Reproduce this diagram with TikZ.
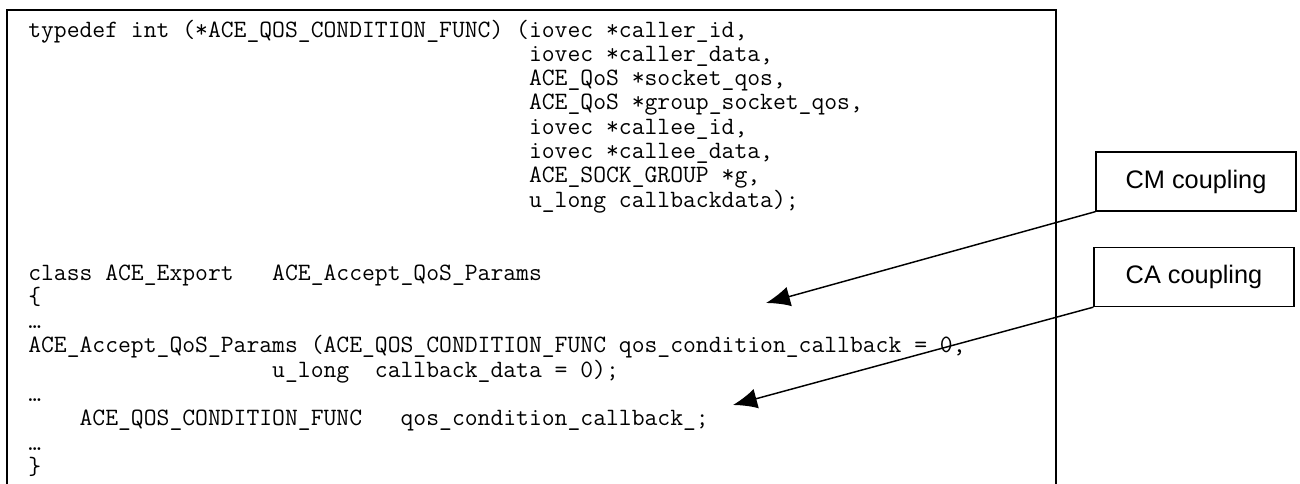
\documentclass[tikz,border=0pt]{standalone}
\usepackage{fontspec}
\newfontfamily\labelfont{Liberation Sans}
\usetikzlibrary{arrows.meta}
\newcommand{\ttgap}[1]{\hspace*{#1\fontcharwd\font`x}}

\begin{document}
\begin{tikzpicture}[x=0.75pt, y=-0.75pt,
  code line/.style={anchor=base west, inner sep=0pt, font=\ttfamily\fontsize{18.7}{18}\selectfont},
  note/.style={draw, line width=1pt, minimum width=150pt, minimum height=44.25pt, inner sep=0pt, font=\labelfont\fontsize{19}{22}\selectfont},
  link/.style={line width=1.1pt, -{Latex[length=18pt, width=15pt]}}]
\useasboundingbox (0,0) rectangle (1300,483);
\pgfmathsetmacro{\rowstep}{24.3}
% frame round the listing, open at the bottom
\draw[line width=1.3pt] (7,495) |- (1056,10) -- (1056,495);
\foreach \k/\txt in {
    0/{typedef int (*ACE\_QOS\_CONDITION\_FUNC) (iovec *caller\_id,},
    1/{\ttgap{39}iovec *caller\_data,},
    2/{\ttgap{39}ACE\_QoS *socket\_qos,},
    3/{\ttgap{39}ACE\_QoS *group\_socket\_qos,},
    4/{\ttgap{39}iovec *callee\_id,},
    5/{\ttgap{39}iovec *callee\_data,},
    6/{\ttgap{39}ACE\_SOCK\_GROUP *g,},
    7/{\ttgap{39}u\_long callbackdata);},
    10/{class ACE\_Export\ttgap{3}ACE\_Accept\_QoS\_Params},
    11/{\{},
    12/{…},
    13/{ACE\_Accept\_QoS\_Params (ACE\_QOS\_CONDITION\_FUNC qos\_condition\_callback = 0,},
    14/{\ttgap{19}u\_long\ttgap{2}callback\_data = 0);},
    15/{…},
    16/{\ttgap{4}ACE\_QOS\_CONDITION\_FUNC\ttgap{3}qos\_condition\_callback\_;},
    17/{…},
    18/{\}}} {
  \node[code line] (line-\k) at (28, {37+\k*\rowstep}) {\txt};
}
\node[note] (cm) at (1196,181.5) {CM coupling};
\node[note] (ca) at (1194,277) {CA coupling};
\coordinate (cm-tip) at (766,303);
\coordinate (ca-tip) at (733,405);
\draw[link] (cm.south west) -- (cm-tip);
\draw[link] (ca.south west) -- (ca-tip);
\end{tikzpicture}
\end{document}
